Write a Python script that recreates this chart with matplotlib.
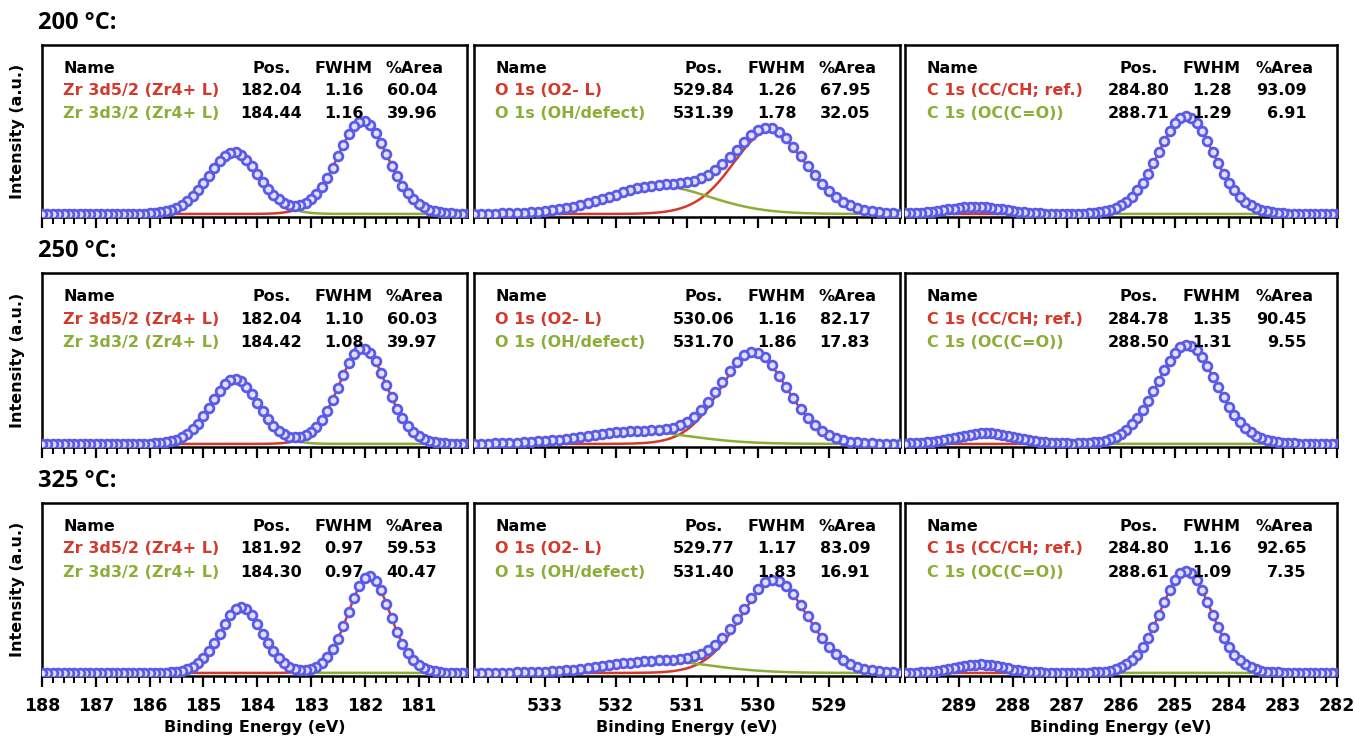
import numpy as np
import matplotlib.pyplot as plt
from matplotlib.ticker import MultipleLocator

temps = ['200 °C:', '250 °C:', '325 °C:']

zr_names = ['Zr 3d5/2 (Zr4+ L)', 'Zr 3d3/2 (Zr4+ L)']
zr_pos = [[182.04, 184.44], [182.04, 184.42], [181.92, 184.30]]
zr_fwhm = [[1.16, 1.16], [1.10, 1.08], [0.97, 0.97]]
zr_area = [[60.04, 39.96], [60.03, 39.97], [59.53, 40.47]]

o_names = ['O 1s (O2- L)', 'O 1s (OH/defect)']
o_pos = [[529.84, 531.39], [530.06, 531.70], [529.77, 531.40]]
o_fwhm = [[1.26, 1.78], [1.16, 1.86], [1.17, 1.83]]
o_area = [[67.95, 32.05], [82.17, 17.83], [83.09, 16.91]]

c_names = ['C 1s (CC/CH; ref.)', 'C 1s (OC(C=O))']
c_pos = [[284.80, 288.71], [284.78, 288.50], [284.80, 288.61]]
c_fwhm = [[1.28, 1.29], [1.35, 1.31], [1.16, 1.09]]
c_area = [[93.09, 6.91], [90.45, 9.55], [92.65, 7.35]]

# energy windows and ticks of each region
x_lims = [(188.0, 180.1), (534.0, 528.0), (290.0, 282.0)]
x_major = [np.arange(181, 189), np.arange(529, 534), np.arange(282, 290)]
# how high the tallest peak reaches in each panel (fraction of axes)
peak_frac = [[0.55, 0.51, 0.58], [0.56, 0.54, 0.58], [0.57, 0.55, 0.60]]

RED = '#d43a2c'
GREEN = '#8cae38'
DOT = '#5a5ae8'

plt.rcParams['font.family'] = ['DejaVu Sans']


def gl(x, pos, fwhm, area, m=0.3):
    # CasaXPS style GL(30) product line shape, scaled to %Area
    def shape(d):
        return np.exp(-4 * np.log(2) * (1 - m) * d ** 2 / fwhm ** 2) / (1 + 4 * m * d ** 2 / fwhm ** 2)
    d = np.linspace(-30 * fwhm, 30 * fwhm, 20001)
    norm = np.trapezoid(shape(d), d)
    return area * shape(x - pos) / norm


fig = plt.figure(figsize=(13.55, 7.37), dpi=100)
W, H = 1355, 737
cols = [(42, 467), (474, 900), (905, 1337)]
rows = [(45, 217), (273, 447), (503, 676)]

regions = [(zr_names, zr_pos, zr_fwhm, zr_area),
           (o_names, o_pos, o_fwhm, o_area),
           (c_names, c_pos, c_fwhm, c_area)]

for r, (top, bot) in enumerate(rows):
    fig.text(38 / W, 1 - (top - 22) / H, temps[r], fontsize=17, fontweight='bold',
             family=['Open Sans', 'DejaVu Sans'], va='center', ha='left')
    fig.text(18 / W, 1 - (top + bot) / 2 / H, 'Intensity (a.u.)', rotation=90,
             fontsize=11.5, fontweight='bold', va='center', ha='center')
    for c, (left, right) in enumerate(cols):
        ax = fig.add_axes([left / W, 1 - bot / H, (right - left) / W, (bot - top) / H])
        names, pos, fwhm, area = regions[c]
        lo, hi = min(x_lims[c]), max(x_lims[c])
        x = np.linspace(lo, hi, 800)
        xd = np.arange(lo, hi + 0.001, 0.1)
        p1 = gl(x, pos[r][0], fwhm[r][0], area[r][0])
        p2 = gl(x, pos[r][1], fwhm[r][1], area[r][1])
        env = gl(xd, pos[r][0], fwhm[r][0], area[r][0]) + gl(xd, pos[r][1], fwhm[r][1], area[r][1])
        ymax = (p1 + p2).max() / peak_frac[r][c]
        ax.plot(x, p1, color=RED, lw=1.8, zorder=2)
        ax.plot(x, p2, color=GREEN, lw=1.8, zorder=2)
        ax.plot(xd, env, 'o', ms=6.3, mec=DOT, mfc='#e0e0fc', mew=2.0, zorder=3)
        ax.set_xlim(*x_lims[c])
        ax.set_ylim(-0.018 * ymax, ymax)
        ax.set_yticks([])
        ax.set_xticks(x_major[c])
        ax.xaxis.set_minor_locator(MultipleLocator(0.2))
        ax.tick_params(axis='x', which='major', direction='out', length=8, width=1.6, pad=7)
        ax.tick_params(axis='x', which='minor', direction='out', length=5, width=1.4)
        for sp in ax.spines.values():
            sp.set_linewidth(1.8)
        if r == 2:
            ax.set_xticklabels([str(v) for v in x_major[c]], fontsize=12.5, fontweight='bold')
            ax.set_xlabel('Binding Energy (eV)', fontsize=11.5, fontweight='bold', labelpad=4)
        else:
            ax.set_xticklabels([])

        # fit table
        fs = 11.5
        ys = [0.866, 0.735, 0.6]
        ax.text(0.05, ys[0], 'Name', transform=ax.transAxes, fontsize=fs,
                fontweight='bold', va='center')
        ax.text(0.54, ys[0], 'Pos.', transform=ax.transAxes, fontsize=fs,
                fontweight='bold', va='center', ha='center')
        ax.text(0.71, ys[0], 'FWHM', transform=ax.transAxes, fontsize=fs,
                fontweight='bold', va='center', ha='center')
        ax.text(0.945, ys[0], '%Area', transform=ax.transAxes, fontsize=fs,
                fontweight='bold', va='center', ha='right')
        for k, col in enumerate([RED, GREEN]):
            y = ys[k + 1]
            ax.text(0.05, y, names[k], transform=ax.transAxes, fontsize=fs,
                    fontweight='bold', va='center', color=col)
            ax.text(0.54, y, '{:.2f}'.format(pos[r][k]), transform=ax.transAxes,
                    fontsize=fs, fontweight='bold', va='center', ha='center')
            ax.text(0.71, y, '{:.2f}'.format(fwhm[r][k]), transform=ax.transAxes,
                    fontsize=fs, fontweight='bold', va='center', ha='center')
            ax.text(0.93, y, '{:.2f}'.format(area[r][k]), transform=ax.transAxes,
                    fontsize=fs, fontweight='bold', va='center', ha='right')

fig.savefig('out.png', dpi=100)
